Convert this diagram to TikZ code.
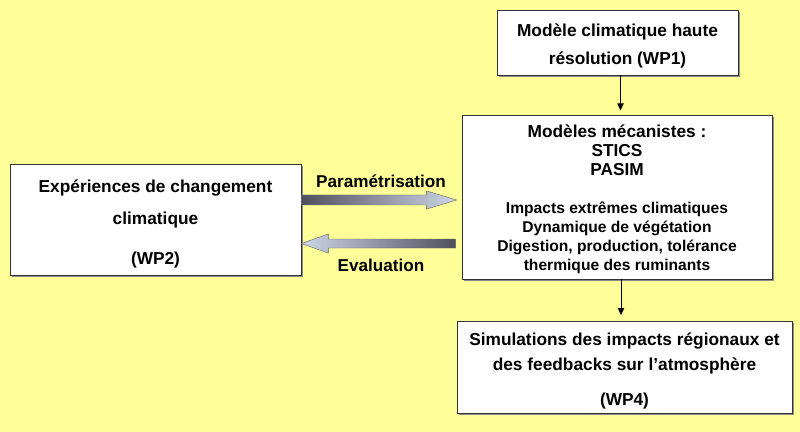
\documentclass[tikz,border=0pt]{standalone}
\usepackage{fontspec}
\setmainfont{Liberation Sans}
\usetikzlibrary{arrows.meta}
\usetikzlibrary{positioning}
\usetikzlibrary{calc}
\usetikzlibrary{shadows}
\definecolor{fond}{RGB}{255,255,153}
\definecolor{flechefonce}{RGB}{80,80,92}
\definecolor{flecheclair}{RGB}{205,215,232}
\newcommand{\police}[2][12.3pt]{\fontsize{#1}{#2}\selectfont\bfseries}

\begin{document}
\begin{tikzpicture}[x=0.025cm, y=-0.025cm,
		boite/.style={draw=black!80, fill=white, align=center, inner sep=0pt, text depth=0pt,
			drop shadow={shadow xshift=1.5pt, shadow yshift=-1.5pt, fill=black!45, opacity=1}},
		grosse/.style={draw=black!60, line width=0.3pt},
		fin/.style={-{Triangle[length=5pt,width=4.5pt]}, line width=0.6pt}]
				% fond
				\fill[fond] (0,0) rectangle (800,432);
				% boites
				\node[boite, minimum width=6.025cm, minimum height=1.625cm, text height=32pt, font=\police{20.6pt}] (wpun) at (617.5,42.5)
					{Mod\`ele climatique haute\\r\'esolution (WP1)};
				\node[boite, minimum width=7.75cm, minimum height=4.1cm, text height=104.8pt, font={\police[11.1pt]{13.5pt}}] (meca) at (617,197)
					{\police{13.5pt}Mod\`eles m\'ecanistes :\\\police{13.5pt}STICS\\\police{13.5pt}PASIM\\[13.5pt]Impacts extr\^emes climatiques\\Dynamique de v\'eg\'etation\\Digestion, production, tol\'erance\\thermique des ruminants};
				\node[boite, minimum width=8.375cm, minimum height=2.3cm, text height=54.1pt, font=\police{17.8pt}] (wpquatre) at (624.5,367)
					{Simulations des impacts r\'egionaux et\\des feedbacks sur l'atmosph\`ere\\[7pt](WP4)};
				\node[boite, minimum width=7.275cm, minimum height=2.775cm, text height=63.3pt, font=\police{22.8pt}] (exp) at (155.5,219.5)
					{Exp\'eriences de changement\\climatique\\[5pt](WP2)};
				% fleches simples
				\draw[fin, shorten >=3pt] ($(wpun.south)+(3,0)$) -- ($(wpun.south |- meca.north)+(3,0)$);
				\draw[fin, shorten >=4pt] ($(meca.south)+(4,0)$) -- ($(meca.south |- wpquatre.north)+(4,0)$);
				% grosses fleches
				\coordinate (pa) at ($(exp.east)+(0,-19.5)$);
				\coordinate (pb) at ($(pa -| meca.west)+(-5,0)$);
				\coordinate (ea) at ($(exp.east)+(0,24)$);
				\coordinate (eb) at ($(ea -| meca.west)+(-6,0)$);
				\shade[grosse, left color=flechefonce, right color=flecheclair]
					(pa) -- ++(0,-5) -- ($(pb)+(-30,-5)$) -- ($(pb)+(-30,-9)$) -- (pb)
					-- ($(pb)+(-30,9)$) -- ($(pb)+(-30,5)$) -- ($(pa)+(0,5)$) -- cycle;
				\shade[grosse, left color=flecheclair, right color=flechefonce]
					(eb) -- ++(0,-4.5) -- ($(ea)+(27,-4.5)$) -- ($(ea)+(27,-9.5)$) -- (ea)
					-- ($(ea)+(27,9.5)$) -- ($(ea)+(27,4.5)$) -- ($(eb)+(0,4.5)$) -- cycle;
				\node[font={\police[12.2pt]{14pt}}] (param) at (381,181) {Param\'etrisation};
				\node[font={\police[12.2pt]{14pt}}] (eval) at (381,265) {Evaluation};
\end{tikzpicture}
\end{document}
